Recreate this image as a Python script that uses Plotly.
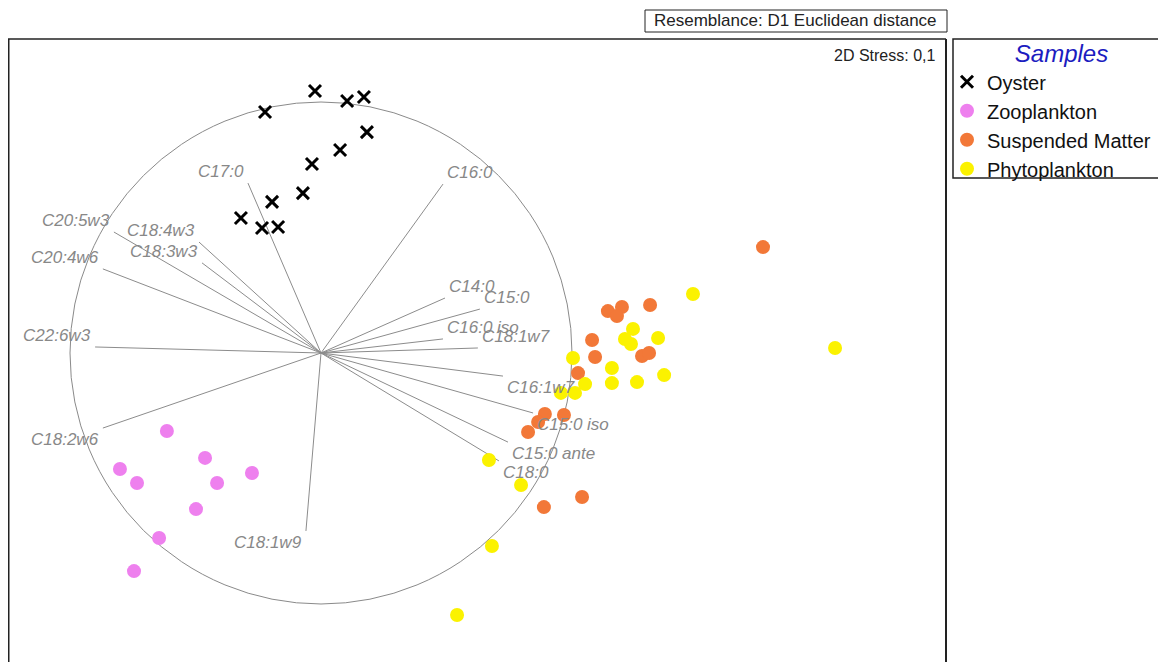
import plotly.graph_objects as go

# nMDS sample coordinates (same units as the vector circle, radius 1)
oyster_x = [-0.223, -0.024, 0.104, 0.171, 0.183, 0.076, -0.036, -0.072, -0.195, -0.319, -0.235, -0.171]
oyster_y = [0.960, 1.044, 1.004, 1.020, 0.880, 0.809, 0.753, 0.637, 0.602, 0.538, 0.498, 0.502]

zoo_x = [-0.614, -0.801, -0.733, -0.462, -0.414, -0.275, -0.498, -0.645, -0.745]
zoo_y = [-0.311, -0.462, -0.518, -0.418, -0.518, -0.478, -0.622, -0.737, -0.869]

susp_x = [1.761, 1.143, 1.199, 1.179, 1.311, 1.080, 1.092, 1.279, 1.307, 1.024,
          0.892, 0.968, 0.865, 0.825, 1.040, 0.888]
susp_y = [0.422, 0.167, 0.183, 0.147, 0.191, 0.052, -0.016, -0.012, 0.000, -0.080,
          -0.243, -0.247, -0.275, -0.315, -0.574, -0.614]

phyto_x = [1.482, 2.048, 1.243, 1.211, 1.235, 1.343, 1.004, 1.159, 1.159, 1.259,
           1.367, 1.052, 1.012, 0.956, 0.669, 0.797, 0.681, 0.542]
phyto_y = [0.235, 0.020, 0.096, 0.056, 0.036, 0.060, -0.020, -0.060, -0.120, -0.116,
           -0.088, -0.124, -0.159, -0.159, -0.426, -0.526, -0.769, -1.044]

# fatty acid vectors (Pearson correlations)
vec_names = ["C17:0", "C16:0", "C20:5w3", "C18:4w3", "C18:3w3", "C20:4w6", "C22:6w3",
             "C18:2w6", "C18:1w9", "C14:0", "C15:0", "C16:0 iso", "C18:1w7",
             "C16:1w7", "C15:0 iso", "C15:0 ante", "C18:0"]
vec_x = [-0.291, 0.486, -0.825, -0.486, -0.474, -0.869, -0.900, -0.869, -0.060,
         0.494, 0.633, 0.486, 0.625, 0.725, 0.845, 0.745, 0.709]
vec_y = [0.677, 0.673, 0.482, 0.442, 0.359, 0.335, 0.024, -0.299, -0.709,
         0.219, 0.175, 0.056, 0.020, -0.092, -0.239, -0.355, -0.430]

# page geometry (screen pixels; the page body has an 8px margin)
PAGE_W, PAGE_H, BODY = 1166, 662, 8
LEFT, TOP, RIGHT = 8, 39, 946
CX, CY, R = 321, 353, 251
FONT = "Liberation Sans, Arial, sans-serif"


def px(x):
    return (x - LEFT) / (RIGHT - LEFT)


def py(y):
    return (PAGE_H - y) / (PAGE_H - TOP)


fig = go.Figure()

lx, ly = [], []
for x, y in zip(vec_x, vec_y):
    lx += [0, x, None]
    ly += [0, y, None]
fig.add_trace(go.Scatter(x=lx, y=ly, mode="lines", line=dict(color="#8c8c8c", width=1),
                         showlegend=False, hoverinfo="skip"))

fig.add_trace(go.Scatter(x=oyster_x, y=oyster_y, mode="markers", name="Oyster",
                         marker=dict(symbol="x-thin", size=12, line=dict(color="black", width=3))))
fig.add_trace(go.Scatter(x=zoo_x, y=zoo_y, mode="markers", name="Zooplankton",
                         marker=dict(size=14, color="#ee80ee", line=dict(width=0))))
fig.add_trace(go.Scatter(x=susp_x, y=susp_y, mode="markers", name="Suspended Matter",
                         marker=dict(size=14, color="#f27838", line=dict(width=0))))
fig.add_trace(go.Scatter(x=phyto_x, y=phyto_y, mode="markers", name="Phytoplankton",
                         marker=dict(size=14, color="#fbf200", line=dict(width=0))))

for name, x, y in zip(vec_names, vec_x, vec_y):
    fig.add_annotation(x=x, y=y, xref="x", yref="y", text=name, showarrow=False,
                       xanchor="left" if x > 0 else "right",
                       yanchor="bottom" if y > 0 else "top",
                       xshift=2 if x > 0 else -2,
                       font=dict(family=FONT, size=17, color="#888888", style="italic"))

fig.add_annotation(x=px(652), y=py(21), xref="paper", yref="paper", showarrow=False,
                   text="Resemblance: D1 Euclidean distance", xanchor="left", yanchor="middle",
                   font=dict(family=FONT, size=17, color="#222222"))
fig.add_annotation(x=px(937), y=py(55), xref="paper", yref="paper", showarrow=False,
                   text="2D Stress: 0,1", xanchor="right", yanchor="middle",
                   font=dict(family=FONT, size=16, color="#222222"))

shapes = [
    dict(type="circle", xref="x", yref="y", x0=-1, x1=1, y0=-1, y1=1,
         line=dict(color="#8a8a8a", width=1), layer="below"),
    dict(type="line", xref="paper", yref="paper", x0=0, x1=0, y0=-0.1, y1=1,
         line=dict(color="#222222", width=3)),
    dict(type="line", xref="paper", yref="paper", x0=0, x1=1, y0=1, y1=1,
         line=dict(color="#222222", width=1.5)),
    dict(type="line", xref="paper", yref="paper", x0=1, x1=1, y0=-0.1, y1=1,
         line=dict(color="#222222", width=2)),
    dict(type="rect", xref="paper", yref="paper", x0=px(645), x1=px(947), y0=py(32), y1=py(10),
         line=dict(color="#222222", width=1)),
    dict(type="rect", xref="paper", yref="paper", x0=px(953), x1=px(1180), y0=py(178), y1=py(39),
         line=dict(color="#222222", width=1.5)),
]

fig.update_layout(
    width=PAGE_W - BODY, height=PAGE_H - BODY,
    margin=dict(l=LEFT - BODY, r=PAGE_W - RIGHT, t=TOP - BODY, b=0),
    paper_bgcolor="white", plot_bgcolor="white",
    xaxis=dict(range=[(LEFT - CX) / R, (RIGHT - CX) / R], visible=False),
    yaxis=dict(range=[(CY - PAGE_H) / R, (CY - TOP) / R], visible=False),
    shapes=shapes,
    showlegend=True,
    legend=dict(x=px(947), y=py(31), xanchor="left", yanchor="top",
                bgcolor="rgba(0,0,0,0)", borderwidth=0,
                font=dict(family=FONT, size=20, color="#111111"),
                title=dict(text="&nbsp;&nbsp;&nbsp;Samples", side="top center",
                           font=dict(family=FONT, size=24, color="#1c1cc0", style="italic"))),
)

fig.write_html("out.html")
